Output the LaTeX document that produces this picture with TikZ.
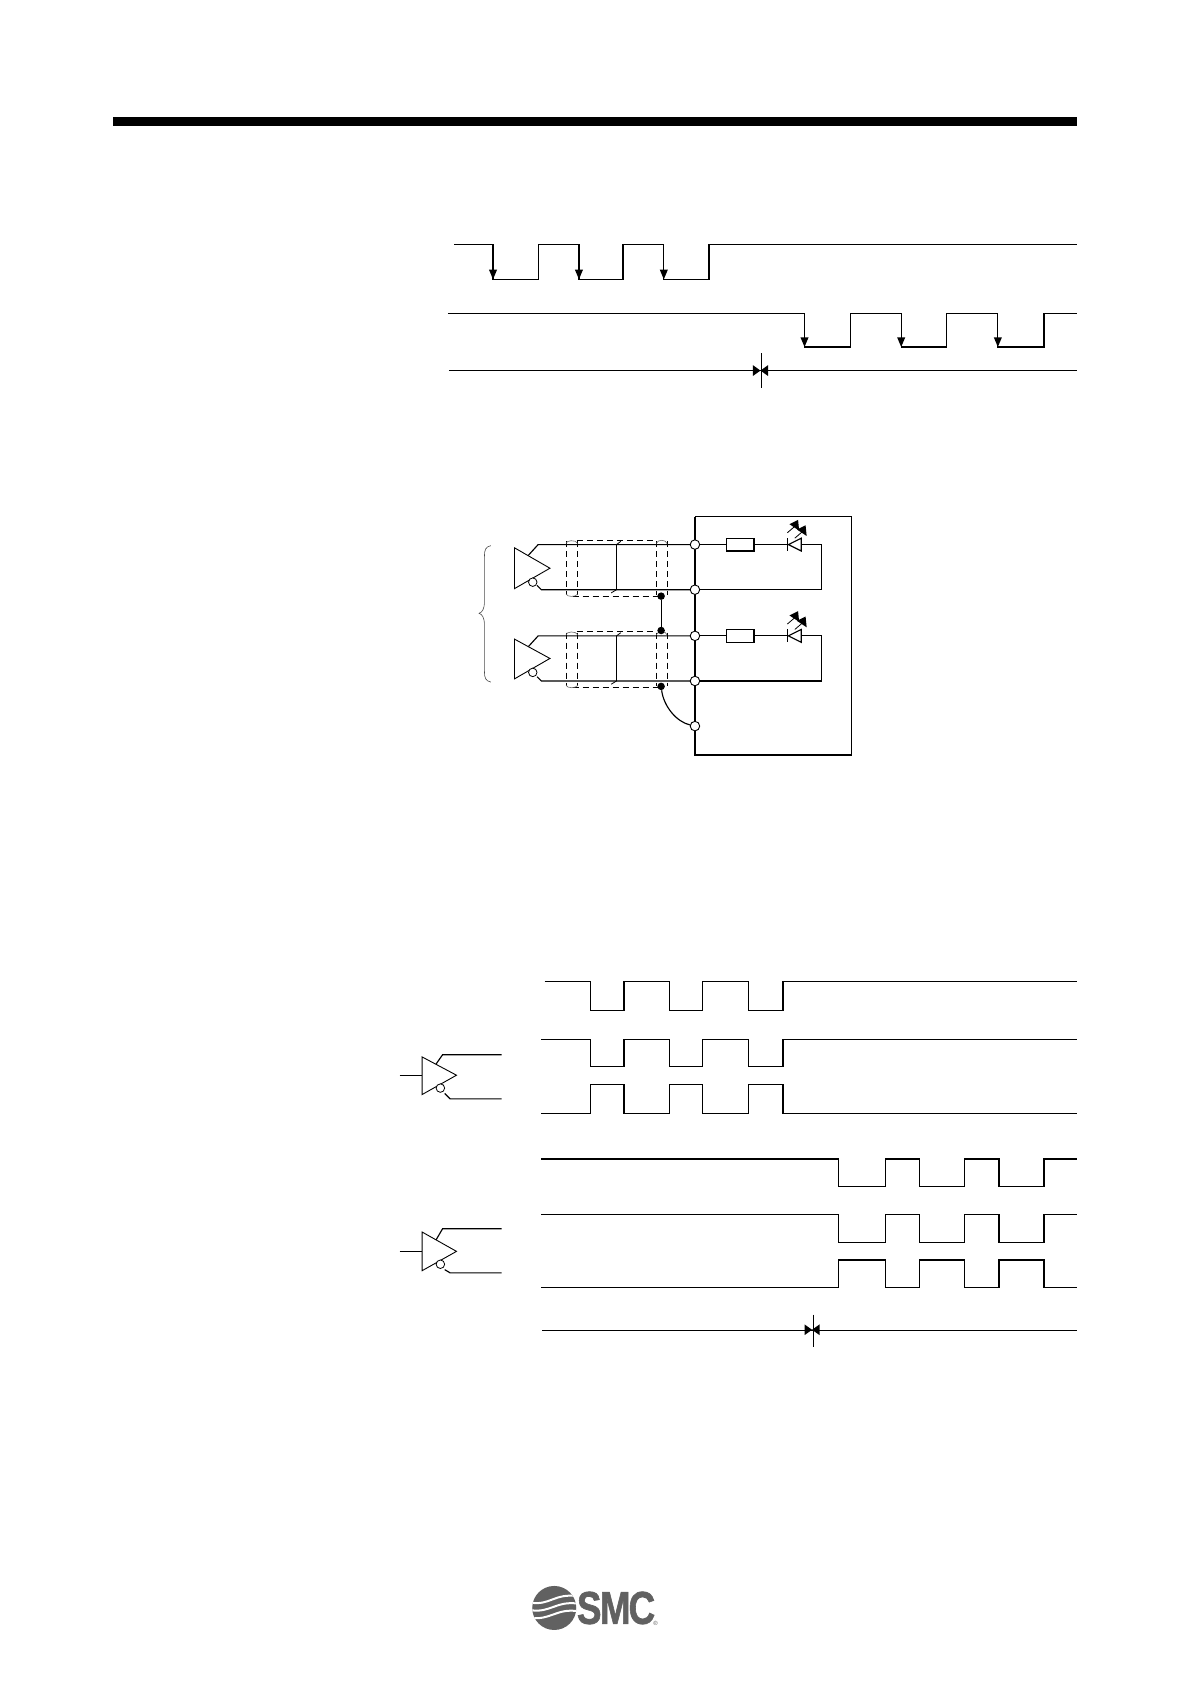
\documentclass[tikz,border=0pt]{standalone}
\usepackage{fontspec}
\setmainfont{Liberation Sans}
\newfontfamily\logofont[FakeBold=1.5]{Liberation Sans Bold}
\tikzset{
  sig/.style={line width=1.15pt, line join=miter},
  wire/.style={line width=1.15pt},
  thin wire/.style={line width=0.8pt},
  shield/.style={line width=1pt, dash pattern=on 6pt off 4pt},
  term/.style={circle, draw, fill=white, line width=0.9pt, minimum size=9.5pt, inner sep=0pt},
  inv/.style={circle, draw, fill=white, line width=0.8pt, minimum size=8.5pt, inner sep=0pt},
  tdot/.style={circle, fill=black, minimum size=7.5pt, inner sep=0pt},
  shieldcap/.style={line width=0.6pt, draw=black!60},
}
\newcommand{\downtip}[2]{\fill (#1-3.8,#2-9) -- (#1+3.8,#2-9) -- (#1,#2) -- cycle;}
\newcommand{\mybowtie}[2]{\fill (#1-7,#2-5) -- (#1-7,#2+5) -- (#1,#2) -- cycle; \fill (#1+7,#2-5) -- (#1+7,#2+5) -- (#1,#2) -- cycle;}
\newcommand{\ledarrow}[2]{\draw[thin wire] (#1-7,#2+6) -- (#1,#2); \fill (#1+3,#2-6) -- (#1-5,#2-2) -- (#1+4,#2+4) -- cycle;}
\newcommand{\driver}[6]{% name, x, ytop, ybot, xtip, ytip
  \draw[line width=0.9pt, fill=white] (#2,#3) -- (#2,#4) -- (#5,#6) -- cycle;
  \node[inv] (#1) at (#2+17,#4-6) {};
}
\begin{document}
\begin{tikzpicture}[x=1.0741pt,y=-1.0741pt]
\useasboundingbox (0,0) rectangle (1108.8,1567.8);
\fill[white] (0,0) rectangle (1108.8,1567.8);
% header bar
\fill[black] (105,109) rectangle (1003,117);

% --- timing 1
\draw[sig] (423,228) -| (459,260) -| (501,228) -| (539,260) -| (580,228) -| (618,260) -| (660,228) -- (1003,228);
\draw[sig] (417,292) -| (749,323) -| (792,292) -| (839,323) -| (881,292) -| (929,323) -| (972,292) -- (1003,292);
\draw[sig] (418,345) -- (1003,345);
\draw[thin wire] (709,329) -- (709,361);
\downtip{459}{260}\downtip{539}{260}\downtip{618}{260}
\downtip{749}{323}\downtip{839}{323}\downtip{929}{323}
\mybowtie{708}{345}

% --- circuit
\draw[wire] (793,481) -- (647,481);
\draw[wire] (793,481) -- (793,703);
\draw[line width=2pt] (647,481) -- (647,703) -- (793,703);

\foreach \n/\yt/\yb in {a/507/549, b/592/634}{
  \node[term] (\n t) at (647,\yt) {};
  \node[term] (\n b) at (647,\yb) {};
  \coordinate (\n tr) at (765,\yt);
  \coordinate (\n br) at (765,\yb);
  \draw[wire] (\n t) -- (676,\yt) (702,\yt) -- (733,\yt) (746,\yt) -- (\n tr) -- (\n br) -- (\n b);
  \draw[wire] (676,\yt-6) rectangle (702,\yt+6);
  \draw[wire] (746,\yt-6) -- (746,\yt+6) -- (734,\yt) -- cycle;
  \draw[wire] (733.5,\yt-6) -- (733.5,\yt+6);
  \ledarrow{740}{\yt-17}
  \ledarrow{747}{\yt-12}
  % wires to driver
  \draw[wire] (491,\yt+11) -- (501,\yt) -- (\n t);
  \draw[wire] (500,\yb-4) -- (504,\yb) -- (\n b);
  \draw[wire] (574,\yt) -- (574,\yb);
  \draw[thin wire] (574,\yt) -- (578,\yt-3);
  \draw[thin wire] (569,\yb+3) -- (574,\yb);
  % shield
  \draw[shield] (537,\yt-4) -- (611,\yt-4);
  \draw[shield] (533,\yb+6) -- (615,\yb+6);
  \draw[shield] (527,\yt-3) -- (527,\yb+5);
  \draw[shield] (538,\yt-3) -- (538,\yb+5);
  \draw[shield] (611,\yt-3) -- (611,\yb+5);
  \draw[shield] (621,\yt-3) -- (621,\yb+5);
  \draw[shieldcap] (527,\yt-1) .. controls (527,\yt-4) and (536,\yt-5) .. (538,\yt-1);
  \draw[shieldcap] (527,\yb+4) .. controls (528,\yb+7) and (536,\yb+7) .. (538,\yb+4);
  \draw[shieldcap] (611,\yt-1) .. controls (612,\yt-5) and (620,\yt-5) .. (621,\yt-1);
}
\driver{ia}{479}{510}{548}{512}{529}
\driver{ib}{479}{595}{632}{512}{613}
\node[term] (tg) at (647,676) {};
\node[tdot] (d1) at (615.5,555) {};
\node[tdot] (d2) at (615.5,587) {};
\node[tdot] (d3) at (615.5,639) {};
\draw[wire] (d1) -- (d2);
\draw[wire] (d3) .. controls (618,658) and (630,672) .. (tg);
\draw[line width=0.6pt, draw=black!70] (457,508) .. controls (452,509) and (451,512) .. (451,518)
  -- (451,560) .. controls (451,567) and (449,570) .. (446,571)
  .. controls (449,572) and (451,575) .. (451,582)
  -- (451,625) .. controls (451,631) and (452,634) .. (457,635);

% --- timing 2
\foreach \yh/\yl/\st in {914/941/507, 968/993/504}{
  \draw[sig] (\st,\yh) -| (550,\yl) -| (581,\yh) -| (623,\yl) -| (654,\yh) -| (697,\yl) -| (729,\yh) -- (1003,\yh);
}
\draw[sig] (504,1037) -| (550,1010) -| (581,1037) -| (623,1010) -| (654,1037) -| (697,1010) -| (729,1037) -- (1003,1037);
\foreach \yh/\yl in {1079/1105, 1131/1157}{
  \draw[sig] (504,\yh) -| (781,\yl) -| (824,\yh) -| (856,\yl) -| (898,\yh) -| (930,\yl) -| (972,\yh) -- (1003,\yh);
}
\draw[sig] (504,1199) -| (781,1173) -| (824,1199) -| (856,1173) -| (898,1199) -| (930,1173) -| (972,1199) -- (1003,1199);
\draw[sig] (505,1239) -- (1003,1239);
\draw[thin wire] (757,1224) -- (757,1254);
\mybowtie{756}{1238}

% drivers in timing 2
\foreach \n/\yu/\yl/\ym in {c/982/1023/1001, e/1144/1185/1165}{
  \draw[wire] (372,\ym) -- (393,\ym);
  \draw[wire] (405,\ym-9) -- (412,\yu) -- (467,\yu);
  \draw[wire] (414,\ym+17) -- (419,\yl) -- (467,\yl);
}
\driver{ic}{393}{984}{1019}{425}{1001}
\driver{ie}{393}{1147}{1183}{425}{1165}

% logo
\fill[black!62] (516,1497) circle (20.5);
\begin{scope}
\clip (516,1497) circle (20.5);
\draw[white,line width=2pt] (494,1492) .. controls (512,1495) and (516,1483) .. (538,1486);
\draw[white,line width=2pt] (494,1499) .. controls (512,1502) and (518,1490) .. (538,1493);
\draw[white,line width=2pt] (494,1506) .. controls (512,1509) and (518,1497) .. (538,1500);
\end{scope}
\node[anchor=west, inner sep=0pt, text=black!62, xscale=0.8, font=\logofont\fontsize{46}{46}\selectfont] (logo) at (537,1497) {S\kern-2pt M\kern-2.5pt C};
\node[anchor=west, inner sep=0pt, text=black!62, font=\fontsize{6}{6}\selectfont] (reg) at (608,1511) {®};
\end{tikzpicture}
\end{document}
